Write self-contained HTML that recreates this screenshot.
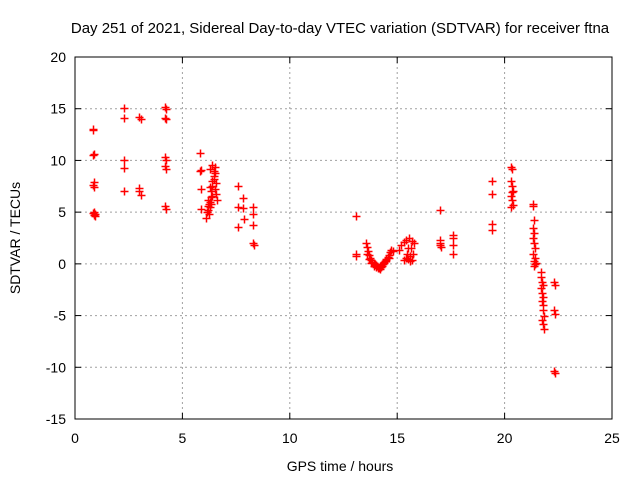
<!DOCTYPE html>
<html><head><meta charset="utf-8"><style>
body{margin:0;background:#fff;}
svg{display:block;font-family:"Liberation Sans",Arial,sans-serif;}
</style></head><body>
<svg id="chart" width="640" height="480">
<rect width="640" height="480" fill="#fff"/>
<text x="340" y="33" font-size="15" text-anchor="middle">Day 251 of 2021, Sidereal Day-to-day VTEC variation (SDTVAR) for receiver ftna</text>
<g id="grid"></g>
<g id="axes"></g>
<g id="points"></g>
<text x="340" y="471" font-size="14" text-anchor="middle">GPS time / hours</text>
<text transform="translate(20,238) rotate(-90)" font-size="14" text-anchor="middle">SDTVAR / TECUs</text>
</svg>
<script>
const xTicks=[0,5,10,15,20,25];
const yTicks=[-15,-10,-5,0,5,10,15,20];
const xs=[0.85,0.85,0.9,0.85,0.9,0.85,0.9,0.9,0.95,0.85,0.9,0.95,
2.3,2.3,2.3,2.3,2.3,
3.0,3.05,3.0,3.0,3.05,
4.2,4.25,4.2,4.25,4.2,4.25,4.2,4.25,4.2,4.25,
5.8,5.85,5.8,5.85,5.85,
6.1,6.15,6.2,6.2,6.25,6.3,6.3,6.35,6.35,6.4,6.4,6.45,6.45,6.5,6.5,6.55,6.55,6.6,6.3,6.2,6.4,6.5,6.35,6.25,6.45,6.3,6.4,
7.6,7.6,7.6,7.8,7.8,7.85,8.3,8.3,8.3,8.3,8.35,
13.1,13.1,13.1,
13.55,13.6,13.65,13.7,13.75,13.8,13.85,13.9,13.95,14.0,14.05,14.1,14.15,14.2,14.25,14.3,14.35,14.4,14.45,14.5,14.55,14.6,14.65,14.7,14.8,13.6,13.7,13.8,13.9,14.0,14.1,14.2,14.3,14.4,14.5,14.6,
15.1,15.2,15.3,15.4,15.45,15.5,15.55,15.6,15.65,15.7,15.75,15.8,15.5,15.6,15.7,15.4,15.3,
17.0,17.0,17.0,17.05,17.0,
17.6,17.6,17.6,17.6,
19.4,19.4,19.4,19.4,
20.3,20.35,20.3,20.35,20.4,20.3,20.35,20.4,20.3,20.35,
21.3,21.3,21.35,21.3,21.35,21.3,21.35,21.4,21.3,21.35,21.4,21.35,21.4,21.45,
21.7,21.7,21.75,21.7,21.75,21.8,21.75,21.8,21.8,21.85,21.75,21.8,21.85,21.8,
22.3,22.35,22.3,22.35,22.3,22.35];
const ys=[13.0,12.9,10.6,10.5,7.9,7.6,7.4,5.0,4.8,4.9,4.7,4.6,
15.1,14.1,10.0,9.3,7.0,
14.2,14.0,7.3,7.0,6.7,
15.2,15.0,14.1,14.0,10.3,10.0,9.5,9.2,5.6,5.3,
10.7,9.1,9.0,7.2,5.3,
4.4,5.0,5.6,6.2,4.8,5.5,6.0,6.5,7.0,7.5,8.0,8.5,9.0,9.4,8.8,7.8,6.8,6.2,9.2,5.2,6.6,7.2,5.8,5.8,8.2,7.4,9.6,
7.5,5.5,3.6,6.4,5.4,4.3,5.5,4.8,3.8,2.0,1.8,
4.6,1.0,0.8,
2.0,1.6,1.2,0.9,0.6,0.4,0.2,0.1,0.0,-0.1,-0.2,-0.3,-0.4,-0.5,-0.3,-0.2,0.0,0.1,0.3,0.5,0.7,0.9,1.1,1.3,1.2,1.0,0.5,0.1,-0.2,-0.3,-0.4,-0.2,0.0,0.2,0.4,0.6,
1.3,1.8,2.1,2.3,1.0,0.5,2.5,0.3,1.5,2.2,1.0,2.0,1.5,0.8,0.4,0.6,0.4,
5.2,2.3,1.8,1.6,2.0,
2.8,2.5,1.8,1.0,
8.0,6.8,3.9,3.3,
9.4,9.2,8.0,7.5,7.0,6.6,6.2,5.7,5.5,6.9,
5.8,5.6,4.2,3.5,3.0,2.5,2.0,1.5,1.0,0.3,0.0,-0.2,0.6,0.1,
-0.8,-1.3,-1.8,-2.3,-2.8,-3.2,-3.6,-4.0,-4.5,-5.0,-5.4,-5.8,-6.3,-2.0,
-1.8,-2.0,-4.5,-4.8,-10.4,-10.6];
const X0=75,X1=612,Y0=419,Y1=57;
const sx=v=>X0+(v-0)/(25-0)*(X1-X0);
const sy=v=>Y0-(v+15)/(35)*(Y0-Y1);
const NS='http://www.w3.org/2000/svg';
const grid=document.getElementById('grid'),axes=document.getElementById('axes'),pts=document.getElementById('points');
function mk(tag,at,parent){const e=document.createElementNS(NS,tag);for(const k in at)e.setAttribute(k,at[k]);parent.appendChild(e);return e;}
xTicks.forEach(t=>{const x=sx(t);
 if(t>0&&t<25){const g=mk('line',{x1:x,x2:x,y1:Y0,y2:Y1,stroke:'#a0a0a0','stroke-dasharray':'2,3'},grid);
 
 }
 mk('line',{x1:x,x2:x,y1:Y0,y2:Y0-6,stroke:'#000'},axes);
 mk('line',{x1:x,x2:x,y1:Y1,y2:Y1+6,stroke:'#000'},axes);
 const l=mk('text',{x:x,y:Y0+24,'font-size':14,'text-anchor':'middle'},axes);l.textContent=t;
 
 });
yTicks.forEach(t=>{const y=sy(t);
 if(t>-15&&t<20){const g=mk('line',{x1:X0,x2:X1,y1:y,y2:y,stroke:'#a0a0a0','stroke-dasharray':'2,3'},grid);
 
 }
 mk('line',{x1:X0,x2:X0+6,y1:y,y2:y,stroke:'#000'},axes);
 mk('line',{x1:X1,x2:X1-6,y1:y,y2:y,stroke:'#000'},axes);
 const l=mk('text',{x:X0-9,y:y+5,'font-size':14,'text-anchor':'end'},axes);l.textContent=t;
 
 });
mk('rect',{x:X0,y:Y1,width:X1-X0,height:Y0-Y1,fill:'none',stroke:'#000'},axes);
let d='';
xs.forEach((v,i)=>{const x=Math.round(sx(v))+0.5,y=Math.round(sy(ys[i]))+0.5;d+=`M${x-4},${y}h8M${x},${y-4}v8`;});
const p=mk('path',{d:d,stroke:'#f00','stroke-width':1.5,fill:'none'},pts);


</script>
</body></html>
